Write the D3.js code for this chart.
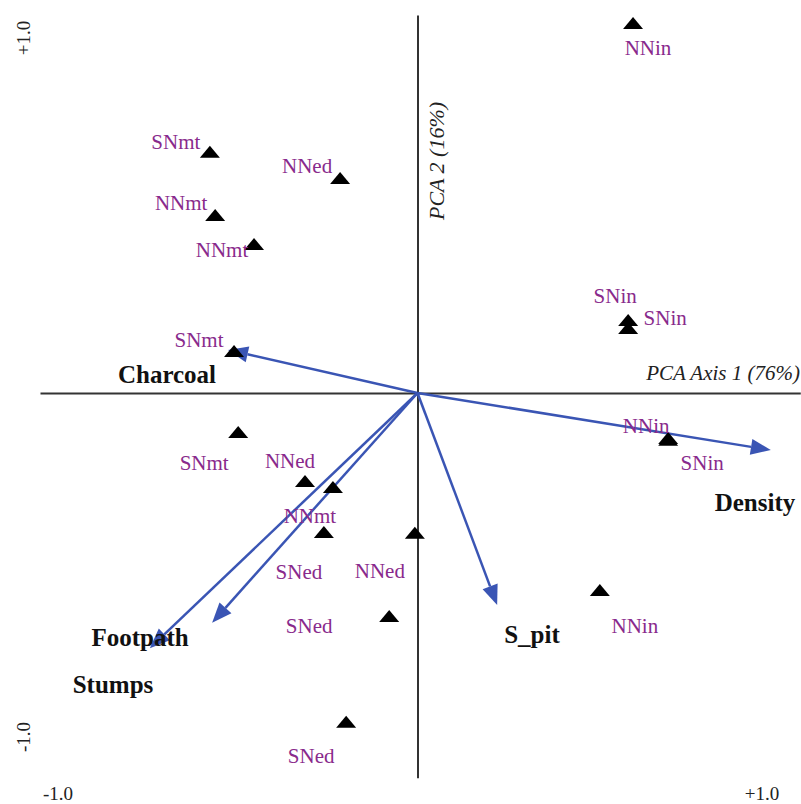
<!DOCTYPE html>
<html>
<head>
<meta charset="utf-8">
<script src="https://cdn.jsdelivr.net/npm/d3@7"></script>
<style>
  html, body { margin: 0; padding: 0; background: #fff; }
  svg { display: block; }
</style>
</head>
<body>
<div id="chart"></div>
<script>
// ---- data ----
const sampleNames = ["NNin","SNmt","NNed","NNmt","NNmt","SNin","SNin","SNmt","NNin",
                     "SNin","SNmt","NNed","SNed","NNmt","NNed","SNed","NNin","SNed"];
const sampleX = [0.571,-0.550,-0.205,-0.536,-0.433,0.558,0.558,-0.486,0.664,
                 0.664,-0.475,-0.298,-0.224,-0.248,-0.007,-0.075,0.483,-0.189];
const sampleY = [0.979,0.638,0.569,0.471,0.394,0.193,0.172,0.111,-0.119,
                 -0.124,-0.103,-0.233,-0.249,-0.368,-0.370,-0.590,-0.521,-0.870];
const variableNames = ["Charcoal","Density","S_pit","Footpath","Stumps"];
const variableX = [-0.502, 0.936, 0.211, -0.709, -0.544];
const variableY = [0.114, -0.151, -0.561, -0.675, -0.608];
const tickValues = [-1, 1];
const tickLabels = ["-1.0", "+1.0"];
const axis1Title = "PCA Axis 1 (76%)";
const axis2Title = "PCA 2 (16%)";

// ---- layout (pixel offsets for label placement) ----
const sampleLabelOffsets = [[15,32],[-34,-3],[-33,-5],[-34,-5],[-32,13],[-13,-17],[37,-3],[-35,-4],[-22,-5],
                            [34,30],[-34,38],[-15,-13],[-34,92],[-14,-9],[-35,45],[-80,17],[35,43],[-35,41]];
const variableLabelPos = [[167,383],[755,511],[532,643],[140,646],[113,693]];

const W = 801, H = 804;
const svg = d3.select("#chart").append("svg").attr("width", W).attr("height", H);

const x = d3.scaleLinear().domain([-1, 1]).range([40, 795]);
const y = d3.scaleLinear().domain([-1, 1]).range([771, 15]);

const serif = "'Liberation Serif', 'DejaVu Serif', serif";
const purple = "#892a8c";
const blue = "#3a55b4";
const axisCol = "#333";

// axes through origin (drawn with d3 axes, no ticks)
svg.append("g")
  .attr("transform", `translate(0,${y(0)})`)
  .call(d3.axisBottom(d3.scaleLinear().domain([-1, 1.014]).range([x(-1), x(1.014)])).tickValues([]).tickSizeOuter(0))
  .call(g => g.select(".domain").attr("stroke", axisCol).attr("stroke-width", 2));
svg.append("g")
  .attr("transform", `translate(${x(0)},0)`)
  .call(d3.axisLeft(d3.scaleLinear().domain([-1.018, 1]).range([y(-1.018), y(1)])).tickValues([]).tickSizeOuter(0))
  .call(g => g.select(".domain").attr("stroke", axisCol).attr("stroke-width", 2));

// tick labels
svg.selectAll(".xtick").data(tickValues).enter().append("text")
  .attr("x", (d, i) => i === 0 ? x(d) + 18 : x(d) - 33)
  .attr("y", 800)
  .attr("text-anchor", "middle")
  .attr("font-family", serif).attr("font-size", 19).attr("fill", "#222")
  .text((d, i) => tickLabels[i]);
svg.selectAll(".ytick").data(tickValues).enter().append("text")
  .attr("transform", (d, i) => `translate(30,${i === 0 ? y(d) - 34 : y(d) + 23}) rotate(-90)`)
  .attr("text-anchor", "middle")
  .attr("font-family", serif).attr("font-size", 19).attr("fill", "#222")
  .text((d, i) => tickLabels[i]);

// axis titles
svg.append("text")
  .attr("x", x(1) + 5).attr("y", y(0) - 13)
  .attr("text-anchor", "end")
  .attr("font-family", serif).attr("font-style", "italic").attr("font-size", 21).attr("fill", "#222")
  .text(axis1Title);
svg.append("text")
  .attr("transform", `translate(${x(0) + 26},${161}) rotate(-90)`)
  .attr("text-anchor", "middle")
  .attr("font-family", serif).attr("font-style", "italic").attr("font-size", 22).attr("fill", "#222")
  .text(axis2Title);

// variable arrows
const ox = x(0), oy = y(0);
const headLen = 20, headHalf = 8;
const arrows = svg.append("g");
variableNames.forEach((name, i) => {
  const tx = x(variableX[i]), ty = y(variableY[i]);
  const ang = Math.atan2(ty - oy, tx - ox);
  const bx = tx - headLen * Math.cos(ang), by = ty - headLen * Math.sin(ang);
  arrows.append("line")
    .attr("x1", ox).attr("y1", oy).attr("x2", bx).attr("y2", by)
    .attr("stroke", blue).attr("stroke-width", 2.5);
  const px = -Math.sin(ang), py = Math.cos(ang);
  arrows.append("path")
    .attr("d", `M${tx},${ty}L${bx + px * headHalf},${by + py * headHalf}L${bx - px * headHalf},${by - py * headHalf}Z`)
    .attr("fill", blue);
});

// variable labels
svg.selectAll(".vlab").data(variableNames).enter().append("text")
  .attr("x", (d, i) => variableLabelPos[i][0])
  .attr("y", (d, i) => variableLabelPos[i][1])
  .attr("text-anchor", "middle")
  .attr("font-family", serif).attr("font-weight", "bold").attr("font-size", 25).attr("fill", "#111")
  .text(d => d);

// sample triangles
svg.selectAll(".pt").data(sampleNames).enter().append("path")
  .attr("d", "M0,-6L10,6L-10,6Z")
  .attr("transform", (d, i) => `translate(${x(sampleX[i])},${y(sampleY[i])})`)
  .attr("fill", "#000");

// sample labels
svg.selectAll(".slab").data(sampleNames).enter().append("text")
  .attr("x", (d, i) => x(sampleX[i]) + sampleLabelOffsets[i][0])
  .attr("y", (d, i) => y(sampleY[i]) + sampleLabelOffsets[i][1])
  .attr("text-anchor", "middle")
  .attr("font-family", serif).attr("font-size", 21).attr("fill", purple)
  .text(d => d);
</script>
</body>
</html>
